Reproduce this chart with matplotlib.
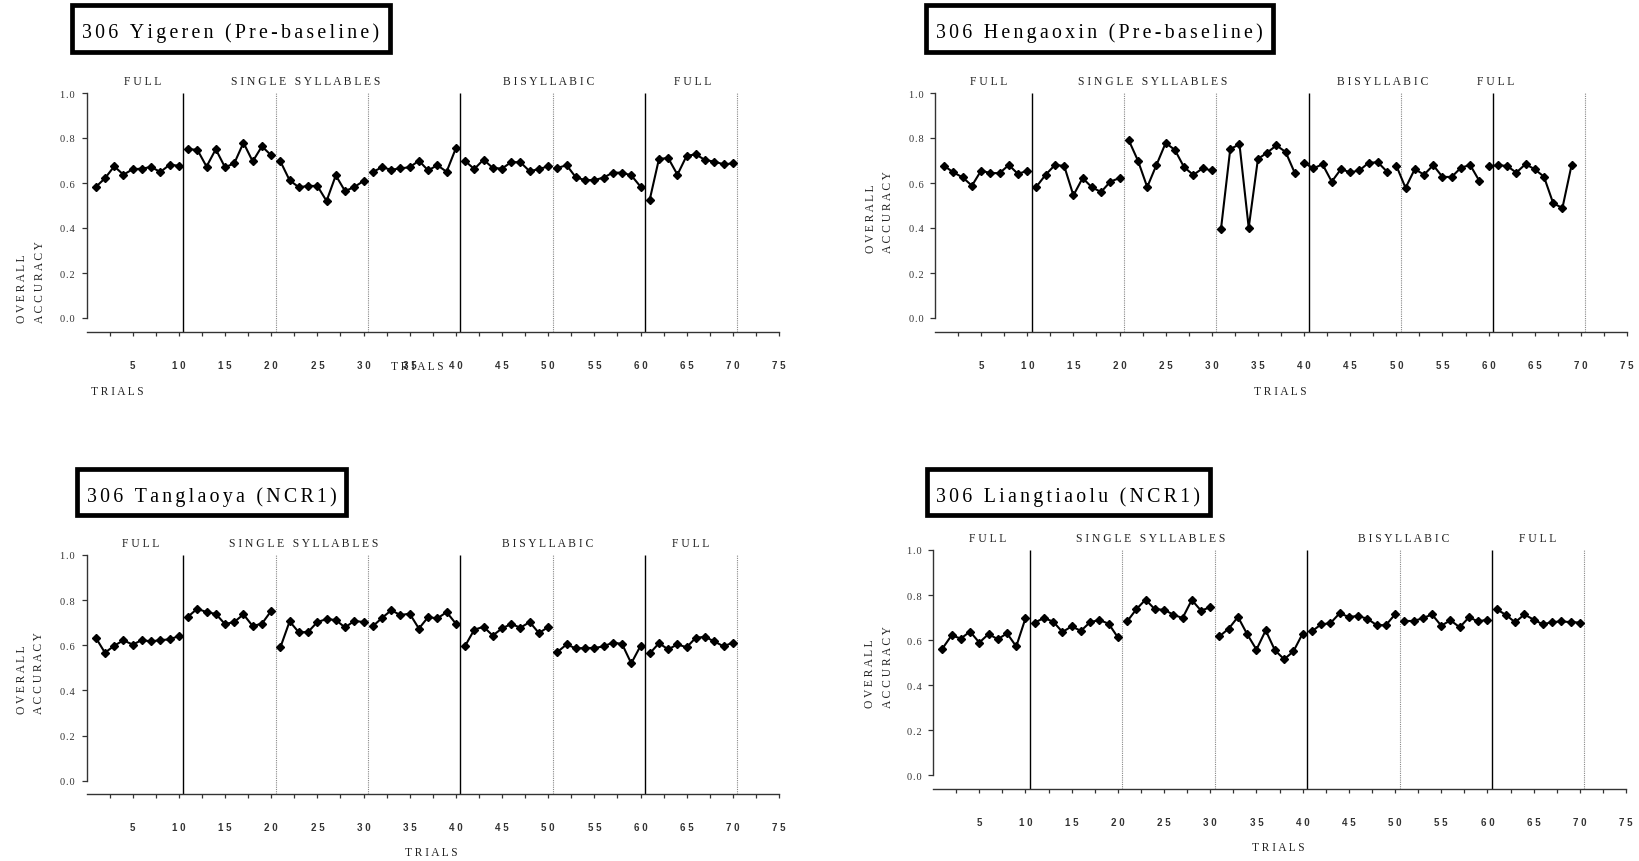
import matplotlib
matplotlib.use("Agg")
import matplotlib.pyplot as plt
from matplotlib.patches import Rectangle
from matplotlib.transforms import blended_transform_factory
import numpy as np

W, H = 1639, 862
SERIF = ["Liberation Serif", "DejaVu Serif"]
SANS = ["Liberation Sans", "DejaVu Sans"]

# overall accuracy per trial
YIGEREN = [0.582, 0.621, 0.674, 0.637, 0.661, 0.664, 0.671, 0.649, 0.681, 0.677,
           0.750, 0.748, 0.673, 0.750, 0.670, 0.687, 0.779, 0.696, 0.763, 0.723,
           0.696, 0.612, 0.581, 0.587, 0.587, 0.520, 0.634, 0.564, 0.582, 0.609,
           0.649, 0.670, 0.659, 0.665, 0.670, 0.699, 0.656, 0.679, 0.650, 0.754,
           0.698, 0.662, 0.704, 0.667, 0.664, 0.693, 0.692, 0.652, 0.662, 0.674,
           0.667, 0.679, 0.625, 0.613, 0.613, 0.624, 0.646, 0.646, 0.634, 0.584,
           0.526, 0.707, 0.711, 0.637, 0.721, 0.727, 0.702, 0.695, 0.683, 0.687]
HENGAOXIN = [0.676, 0.647, 0.625, 0.588, 0.655, 0.644, 0.644, 0.680, 0.640, 0.655,
             0.584, 0.637, 0.680, 0.676, 0.545, 0.622, 0.581, 0.560, 0.606, 0.622,
             0.790, 0.699, 0.582, 0.680, 0.778, 0.747, 0.670, 0.636, 0.665, 0.656,
             0.397, 0.751, 0.772, 0.401, 0.707, 0.735, 0.767, 0.738, 0.644,
             0.690, 0.665, 0.683, 0.606, 0.662, 0.647, 0.656, 0.690, 0.692, 0.650,
             0.677, 0.578, 0.662, 0.637, 0.679, 0.627, 0.627, 0.668, 0.680, 0.609,
             0.674, 0.679, 0.676, 0.646, 0.684, 0.661, 0.628, 0.510, 0.489, 0.681]
TANGLAOYA = [0.634, 0.567, 0.598, 0.622, 0.603, 0.623, 0.617, 0.623, 0.626, 0.641,
             0.727, 0.762, 0.747, 0.739, 0.694, 0.703, 0.737, 0.685, 0.696, 0.752,
             0.591, 0.706, 0.657, 0.659, 0.703, 0.716, 0.712, 0.679, 0.708, 0.703,
             0.684, 0.721, 0.755, 0.734, 0.740, 0.674, 0.725, 0.719, 0.747, 0.696,
             0.597, 0.669, 0.682, 0.643, 0.675, 0.694, 0.678, 0.703, 0.654, 0.681,
             0.570, 0.604, 0.586, 0.588, 0.588, 0.595, 0.612, 0.606, 0.520, 0.597,
             0.564, 0.609, 0.582, 0.604, 0.591, 0.634, 0.637, 0.617, 0.595, 0.612]
LIANGTIAOLU = [0.562, 0.621, 0.607, 0.638, 0.589, 0.627, 0.604, 0.630, 0.572, 0.697,
               0.678, 0.698, 0.682, 0.636, 0.661, 0.641, 0.680, 0.689, 0.673, 0.612,
               0.683, 0.737, 0.780, 0.737, 0.735, 0.713, 0.698, 0.778, 0.731, 0.746,
               0.617, 0.651, 0.703, 0.626, 0.558, 0.643, 0.555, 0.515, 0.550, 0.629,
               0.639, 0.670, 0.675, 0.719, 0.703, 0.707, 0.695, 0.667, 0.666, 0.714,
               0.685, 0.685, 0.697, 0.714, 0.664, 0.688, 0.657, 0.701, 0.683, 0.691,
               0.737, 0.712, 0.679, 0.714, 0.691, 0.670, 0.680, 0.683, 0.680, 0.678]

# trial numbers where a new (unconnected) run of points starts
BLOCKS_STD = [1, 11, 21, 31, 41, 51, 61]
BLOCKS_HENGAOXIN = [1, 11, 21, 31, 40, 50, 60]

TITLES = ["306 Yigeren (Pre-baseline)", "306 Hengaoxin (Pre-baseline)",
          "306 Tanglaoya (NCR1)", "306 Liangtiaolu (NCR1)"]
SECTIONS = ["FULL", "SINGLE SYLLABLES", "BISYLLABIC", "FULL"]
SOLID_LINES = [10.5, 40.5, 60.5]
DOTTED_LINES = [20.5, 30.5, 50.5, 70.5]
YTICKS = [0.0, 0.2, 0.4, 0.6, 0.8, 1.0]
XTICKS = [5, 10, 15, 20, 25, 30, 35, 40, 45, 50, 55, 60, 65, 70, 75]
XMINOR = [2.5, 7.5, 12.5, 17.5, 22.5, 27.5, 32.5, 37.5, 42.5, 47.5, 52.5, 57.5, 62.5, 67.5, 72.5]

# layout in pixels: axes left/right/top(=1.0)/bottom(=x axis line)/zero line
PANELS = [
    dict(vals=YIGEREN, blocks=BLOCKS_STD, title=TITLES[0], rect=(86.5, 779, 94, 333, 319),
         box=(71.7, 5.7, 390, 53.3), sect_x=[6.1, 23.7, 50.05, 65.7],
         ylab=(30.7, 323), trials=[(117.8, 392), (417.5, 367)]),
    dict(vals=HENGAOXIN, blocks=BLOCKS_HENGAOXIN, title=TITLES[1], rect=(935, 1627, 94, 333, 319),
         box=(926, 5.7, 1273.3, 53.3), sect_x=[5.87, 23.56, 48.5, 60.8],
         ylab=(879.5, 253), trials=[(1280, 392)]),
    dict(vals=TANGLAOYA, blocks=BLOCKS_STD, title=TITLES[2], rect=(86.5, 779, 556, 795, 781.7),
         box=(77.4, 470.4, 346, 516.4), sect_x=[5.9, 23.5, 49.9, 65.4],
         ylab=(30.5, 714), trials=[(431.7, 853)]),
    dict(vals=LIANGTIAOLU, blocks=BLOCKS_STD, title=TITLES[3], rect=(933.1, 1626, 551, 790, 776.3),
         box=(927, 470, 1210, 516), sect_x=[5.9, 23.6, 50.9, 65.4],
         ylab=(879, 708.3), trials=[(1278.8, 848)]),
]


def spaced(s, gap=" "):
    return gap.join(s)


def fx(px):
    return px / W


def fy(py):
    return 1 - py / H


def draw_panel(fig, p):
    left, right, top, bottom, zero = p["rect"]
    ax = fig.add_axes([fx(left), fy(bottom), (right - left) / W, (bottom - top) / H])
    ylo = -(bottom - zero) / (zero - top)
    ax.set_xlim(0, 75)
    ax.set_ylim(ylo, 1.0)
    ax.patch.set_alpha(0)

    for s in ["top", "right"]:
        ax.spines[s].set_visible(False)
    ax.spines["left"].set_bounds(0, 1)
    for s in ["left", "bottom"]:
        ax.spines[s].set_color("#333333")
        ax.spines[s].set_linewidth(1.0)

    ax.vlines(SOLID_LINES, ylo, 1.0, colors="black", linewidth=1.0, zorder=1)
    ax.vlines(DOTTED_LINES, ylo, 1.0, colors="#888888", linewidth=0.8,
              linestyles=(0, (1, 1)), zorder=1)

    vals = np.array(p["vals"])
    trials = np.arange(1, len(vals) + 1)
    starts = p["blocks"] + [len(vals) + 1]
    for a, b in zip(starts[:-1], starts[1:]):
        m = (trials >= a) & (trials < b)
        ax.plot(trials[m], vals[m], color="black", linewidth=1.5, marker="D",
                markersize=3.8, markeredgewidth=1.0, zorder=3, clip_on=False)

    ax.set_yticks(YTICKS, labels=[spaced(f"{v:.1f}", "\u200a") for v in YTICKS],
                  family=SERIF, fontsize=7.5, color="#444444")
    ax.set_xticks(XTICKS, labels=[spaced(str(v)) for v in XTICKS],
                  family=SANS, fontsize=7, fontweight="bold", color="#444444")
    ax.set_xticks(XMINOR, minor=True)
    ax.tick_params(axis="y", direction="out", length=3.6, width=0.9, pad=4.6, colors="#333333")
    ax.tick_params(axis="x", which="both", direction="out", length=3.0, width=0.9,
                   pad=17.3, colors="#333333")

    tr = blended_transform_factory(ax.transData, ax.transAxes)
    for name, x in zip(SECTIONS, p["sect_x"]):
        ax.text(x, 1.05, spaced(name), transform=tr, ha="center", va="center",
                family=SERIF, fontsize=8.4, color="#222222")

    # title box
    x0, y0, x1, y1 = p["box"]
    fig.patches.append(Rectangle((fx(x0), fy(y1)), (x1 - x0) / W, (y1 - y0) / H,
                                 transform=fig.transFigure, fill=False,
                                 edgecolor="black", linewidth=3.4))
    fig.text(fx((x0 + x1) / 2), fy((y0 + y1) / 2 + 4), spaced(p["title"], "\u2006"),
             ha="center", va="center", family=SERIF, fontsize=14.3, color="black")

    lx, ly = p["ylab"]
    fig.text(fx(lx), fy(ly), spaced("OVERALL") + "\n" + spaced("ACCURACY"),
             rotation=90, ha="center", va="bottom", multialignment="left",
             linespacing=1.65, family=SERIF, fontsize=8.3, color="#222222")

    for tx, ty in p["trials"]:
        fig.text(fx(tx), fy(ty), spaced("TRIALS"), ha="center", va="center",
                 family=SERIF, fontsize=8.3, color="#222222")
    return ax


fig = plt.figure(figsize=(W / 100, H / 100), dpi=100)
fig.patch.set_facecolor("white")
for p in PANELS:
    draw_panel(fig, p)

fig.savefig("out.png", dpi=100)
